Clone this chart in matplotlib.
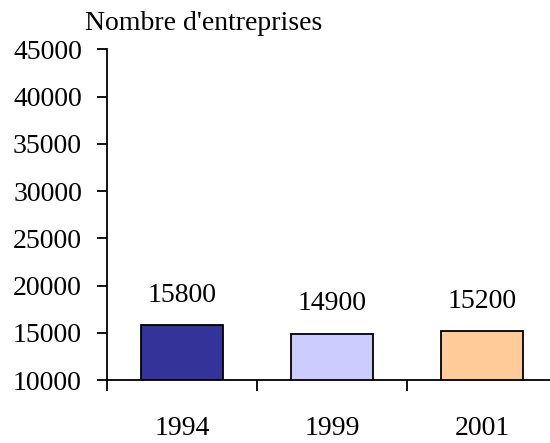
import numpy as np
import matplotlib.pyplot as plt

years = ['1994', '1999', '2001']
counts = [15800, 14900, 15200]
colors = ['#333399', '#CCCCFF', '#FFCC99']

plt.rcParams['font.family'] = ['Liberation Serif', 'DejaVu Serif']

fig = plt.figure(figsize=(5.5, 4.43), dpi=100)
ax = fig.add_axes([0.1945, 0.1422, 0.818, 0.7461])

x = np.arange(len(years))
bars = ax.bar(x, counts, width=0.55, color=colors, edgecolor='black', linewidth=1.3,
              bottom=0)
ax.set_ylim(10000, 45000)
ax.set_xlim(-0.5, 2.5)

for xi, v in zip(x, counts):
    ax.annotate(str(v), (xi, v), xytext=(0, 21.5), textcoords='offset points',
                ha='center', va='center', fontsize=20)

ax.set_yticks(np.arange(10000, 45001, 5000))
ax.tick_params(axis='y', direction='out', length=7, width=1.3, pad=11, labelsize=20)

# category boundary ticks, labels in between
ax.set_xticks([-0.5, 0.5, 1.5, 2.5])
ax.set_xticklabels([])
ax.set_xticks(x, minor=True)
ax.set_xticklabels(years, minor=True)
ax.tick_params(axis='x', which='major', direction='out', length=8, width=1.3)
ax.tick_params(axis='x', which='minor', length=0, pad=26, labelsize=20)

for s in ['top', 'right']:
    ax.spines[s].set_visible(False)
for s in ['left', 'bottom']:
    ax.spines[s].set_linewidth(1.3)

fig.text(85 / 550, 1 - 24 / 443, "Nombre d'entreprises", ha='left', va='center', fontsize=20)

fig.savefig('out.png', dpi=100)
